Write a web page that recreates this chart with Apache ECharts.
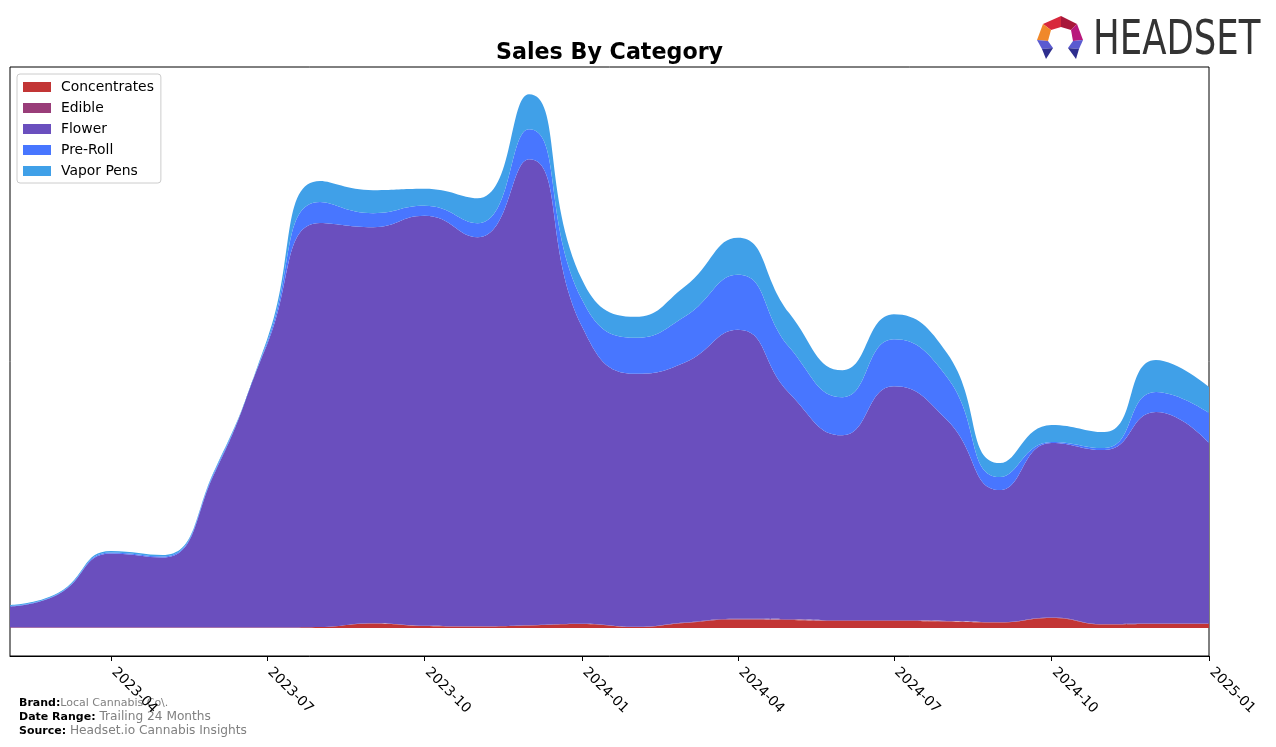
<!DOCTYPE html>
<html>
<head>
<meta charset="utf-8">
<script src="https://cdn.jsdelivr.net/npm/echarts@6/dist/echarts.min.js"></script>
<style>
html,body{margin:0;padding:0;background:#fff;}
#c{width:1276px;height:747px;}
</style>
</head>
<body>
<div id="c"></div>
<script>
const months = ['2023-02-01','2023-03-01','2023-04-01','2023-05-01','2023-06-01','2023-07-01','2023-08-01','2023-09-01','2023-10-01','2023-11-01','2023-12-01','2024-01-01','2024-02-01','2024-03-01','2024-04-01','2024-05-01','2024-06-01','2024-07-01','2024-08-01','2024-09-01','2024-10-01','2024-11-01','2024-12-01','2025-01-01'];
const concentrates = [0.5,0.5,0.5,0.5,0.5,0.5,1,4.5,2,1.5,2.5,4,1,5,8.5,8,7,7,6.5,5.5,10,3.5,4,4];
const edible = [0,0,0,0,0,0,0,0.3,0.2,0.2,0.3,0.3,0.2,0.5,0.8,0.8,0.7,0.7,0.6,0.5,0.6,0.4,0.4,0.4];
const flower = [21,33,74,70,156.5,282.5,404,396,410,389,466,297,253,260,289,226,185,234,201,132,174.5,174,211.5,180.5];
const preRoll = [0.5,0.5,1,1,1.5,2,21,14,10,14,30,27,36,46,55,46,38,47,43,13,1,2,20,30];
const vaporPens = [1,1,1.5,1.5,1.5,3,21,23,17,25,35,20,21,30,37,34,27,25,24,14,17,16,32,26];
const tickDates = ['2023-04-01','2023-07-01','2023-10-01','2024-01-01','2024-04-01','2024-07-01','2024-10-01','2025-01-01'];

const toTime = s => Date.UTC(+s.slice(0,4), +s.slice(5,7) - 1, +s.slice(8,10));
const tickValues = tickDates.map(toTime);
const names = ['Concentrates','Edible','Flower','Pre-Roll','Vapor Pens'];
const colors = ['#C23535','#993D79','#6A4FBE','#4876FF','#40A0E8'];
const values = [concentrates, edible, flower, preRoll, vaporPens];

const series = names.map((n, i) => ({
  name: n,
  type: 'line',
  stack: 'total',
  xAxisIndex: 0,
  smooth: 0.5,
  symbol: 'none',
  showSymbol: false,
  lineStyle: {width: 0},
  areaStyle: {color: colors[i], opacity: 1},
  itemStyle: {color: colors[i]},
  emphasis: {disabled: true},
  data: months.map((m, j) => [toTime(m), values[i][j]])
}));

const pad = n => (n < 10 ? '0' : '') + n;
const fmt = v => { const d = new Date(v); return d.getUTCFullYear() + '-' + pad(d.getUTCMonth() + 1); };
const xMin = toTime(months[0]), xMax = toTime(months[months.length - 1]);
const chart = echarts.init(document.getElementById('c'), null, {renderer: 'canvas'});
chart.setOption({
  animation: false,
  backgroundColor: '#fff',
  grid: {left: 10, right: 67, top: 67, bottom: 91, show: true, borderColor: '#000', borderWidth: 1, containLabel: false},
  legend: {
    orient: 'vertical', left: 17, top: 74,
    itemWidth: 28, itemHeight: 10, itemGap: 7,
    icon: 'rect',
    padding: [6, 7, 5, 6],
    borderColor: '#cccccc', borderWidth: 1, borderRadius: 3,
    backgroundColor: 'rgba(255,255,255,0.8)',
    textStyle: {fontFamily: 'DejaVu Sans', fontSize: 13.9, color: '#000', lineHeight: 14, padding: [0,0,0,5]},
    data: names
  },
  xAxis: [{
    type: 'time',
    min: xMin, max: xMax,
    position: 'bottom',
    axisLine: {show: false, onZero: false},
    axisTick: {show: false},
    axisLabel: {show: false},
    splitLine: {show: false}
  }, {
    type: 'value',
    min: xMin, max: xMax,
    position: 'bottom',
    axisLine: {show: true, onZero: false, lineStyle: {color: '#000', width: 1}},
    axisTick: {show: true, length: 5, lineStyle: {color: '#000'}, customValues: tickValues},
    splitLine: {show: false},
    axisLabel: {
      customValues: tickValues,
      formatter: fmt,
      rotate: -45, fontFamily: 'DejaVu Sans', fontSize: 13.9, color: '#000', margin: 11,
      padding: [0, 0, 0, 4],
      hideOverlap: false
    }
  }],
  yAxis: {type: 'value', min: -28, max: 561, show: false, splitLine: {show: false}},
  series: series,
  graphic: [
    {type: 'text', x: 609.5, y: 53, style: {text: 'Sales By Category', font: 'bold 22.2px "DejaVu Sans"', fill: '#000', textAlign: 'center', textVerticalAlign: 'middle'}},
    {type: 'text', x: 19, y: 703, style: {
      text: '{b|Brand:}{v|Local Cannabis Co\\.}',
      textVerticalAlign: 'middle',
      rich: {b: {font: 'bold 11px "DejaVu Sans"', fill: '#000'}, v: {font: '11px "DejaVu Sans"', fill: '#808080'}}
    }},
    {type: 'text', x: 19, y: 717, style: {
      text: '{b|Date Range: }{v|Trailing 24 Months}',
      textVerticalAlign: 'middle',
      rich: {b: {font: 'bold 11px "DejaVu Sans"', fill: '#000'}, v: {font: '12.2px "DejaVu Sans"', fill: '#808080'}}
    }},
    {type: 'text', x: 19, y: 731, style: {
      text: '{b|Source: }{v|Headset.io Cannabis Insights}',
      textVerticalAlign: 'middle',
      rich: {b: {font: 'bold 11px "DejaVu Sans"', fill: '#000'}, v: {font: '12.2px "DejaVu Sans"', fill: '#808080'}}
    }},
    {type: 'text', x: 1093, y: 42, scaleX: 0.725, scaleY: 0.98, style: {text: 'HEADSET', font: '49px "DejaVu Sans"', fill: '#333333', textVerticalAlign: 'middle'}},
    {type: 'polygon', shape: {points: [[1043,24],[1061,16],[1061,27],[1051,30]]}, style: {fill: '#D8283C'}},
    {type: 'polygon', shape: {points: [[1061,16],[1077,24],[1071,30],[1061,27]]}, style: {fill: '#A8183A'}},
    {type: 'polygon', shape: {points: [[1043,24],[1051,30],[1048,41],[1037,40]]}, style: {fill: '#F0882A'}},
    {type: 'polygon', shape: {points: [[1077,24],[1083,40],[1073,41],[1071,30]]}, style: {fill: '#B8187C'}},
    {type: 'polygon', shape: {points: [[1037,40],[1048,41],[1053,48],[1042,49]]}, style: {fill: '#5A5AD0'}},
    {type: 'polygon', shape: {points: [[1042,49],[1053,48],[1046,59]]}, style: {fill: '#2E2E8E'}},
    {type: 'polygon', shape: {points: [[1083,40],[1073,41],[1068,48],[1079,49]]}, style: {fill: '#5A5AD0'}},
    {type: 'polygon', shape: {points: [[1079,49],[1068,48],[1076,59]]}, style: {fill: '#2E2E8E'}}
  ]
});
</script>
</body>
</html>
